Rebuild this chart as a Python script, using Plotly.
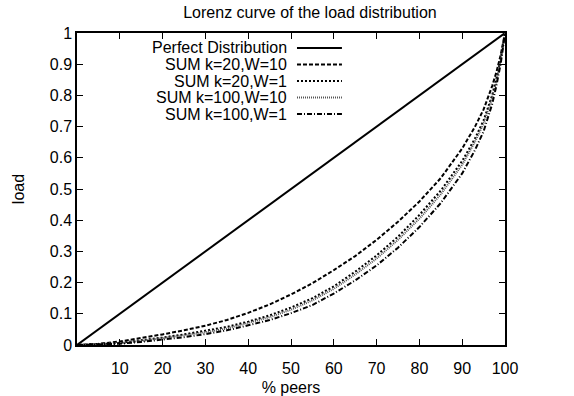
import plotly.graph_objects as go

peers = [0, 5, 10, 15, 20, 25, 30, 35, 40, 45, 50, 55, 60, 65, 70, 75, 80, 85, 90, 93, 95, 97, 98, 99, 100]
perfect_x = [0, 100]
perfect_y = [0, 1]
k20_w10 = [0, 0.004, 0.011, 0.022, 0.034, 0.047, 0.062, 0.080, 0.103, 0.130, 0.162, 0.198, 0.240, 0.285, 0.337, 0.395, 0.460, 0.535, 0.630, 0.700, 0.755, 0.830, 0.875, 0.930, 1]
k20_w1 = [0, 0.002, 0.007, 0.015, 0.024, 0.034, 0.045, 0.058, 0.075, 0.095, 0.120, 0.150, 0.188, 0.235, 0.287, 0.347, 0.417, 0.495, 0.590, 0.662, 0.720, 0.800, 0.855, 0.918, 1]
k100_w10 = [0, 0.002, 0.006, 0.013, 0.022, 0.031, 0.041, 0.053, 0.070, 0.089, 0.113, 0.143, 0.180, 0.226, 0.277, 0.337, 0.405, 0.483, 0.578, 0.652, 0.710, 0.793, 0.848, 0.913, 1]
k100_w1 = [0, 0.001, 0.004, 0.010, 0.017, 0.025, 0.035, 0.047, 0.063, 0.080, 0.102, 0.128, 0.165, 0.207, 0.255, 0.312, 0.378, 0.455, 0.550, 0.625, 0.685, 0.772, 0.832, 0.902, 1]

names = ["Perfect Distribution", "SUM k=20,W=10", "SUM k=20,W=1", "SUM k=100,W=10", "SUM k=100,W=1"]
dashes = ["solid", "4px,2px", "2px,2px", "1px,1px", "5px,2px,1px,2px"]
widths = [2, 2, 2, 2, 2]
colors = ["black", "black", "black", "#555555", "black"]

series = [(perfect_x, perfect_y), (peers, k20_w10), (peers, k20_w1), (peers, k100_w10), (peers, k100_w1)]

fig = go.Figure()
for (xs, ys), nm, d, w, c in zip(series, names, dashes, widths, colors):
    fig.add_trace(go.Scatter(x=xs, y=ys, mode="lines", name=nm,
                             line=dict(color=c, width=w, dash=d), showlegend=False))

# gnuplot-style legend: right-aligned text, sample line to the right
row_y = [0.952, 0.899, 0.846, 0.793, 0.740]
for i, (nm, d, w, c) in enumerate(zip(names, dashes, widths, colors)):
    fig.add_annotation(x=0.495, y=row_y[i], xref="paper", yref="paper", text=nm,
                       showarrow=False, xanchor="right", yanchor="middle",
                       font=dict(size=16, color="black"))
    fig.add_shape(type="line", xref="paper", yref="paper", x0=0.514, x1=0.619,
                  y0=row_y[i], y1=row_y[i], line=dict(color=c, width=w, dash=d))

fig.update_layout(
    width=574, height=396,
    margin=dict(l=77, r=69, t=33, b=51),
    paper_bgcolor="white", plot_bgcolor="white",
    font=dict(family="Liberation Sans, Arial, sans-serif", size=16, color="black"),
    title=dict(text="Lorenz curve of the load distribution", x=0.54, xanchor="center",
               xref="container", yref="container",
               y=0.968, yanchor="middle", font=dict(size=16)),
)
fig.update_xaxes(range=[0, 100], tickvals=[10, 20, 30, 40, 50, 60, 70, 80, 90, 100],
                 ticks="inside", ticklen=6, tickcolor="black", showgrid=False, zeroline=False,
                 showline=True, linecolor="black", linewidth=1.5, mirror="ticks",
                 tickfont=dict(size=16), ticklabelstandoff=8, automargin=False,
                 title=dict(text="% peers", standoff=7, font=dict(size=16)))
fig.update_yaxes(range=[0, 1], tickvals=[0, 0.1, 0.2, 0.3, 0.4, 0.5, 0.6, 0.7, 0.8, 0.9, 1],
                 ticktext=["0", "0.1", "0.2", "0.3", "0.4", "0.5", "0.6", "0.7", "0.8", "0.9", "1"],
                 ticks="inside", ticklen=6, tickcolor="black", showgrid=False, zeroline=False,
                 showline=True, linecolor="black", linewidth=1.5, mirror="ticks",
                 tickfont=dict(size=16), automargin=False,
                 title=dict(text="load", standoff=21, font=dict(size=16)))

fig.write_html("out.html", config={"displayModeBar": False},
               post_script="document.body.style.margin='0px';")
